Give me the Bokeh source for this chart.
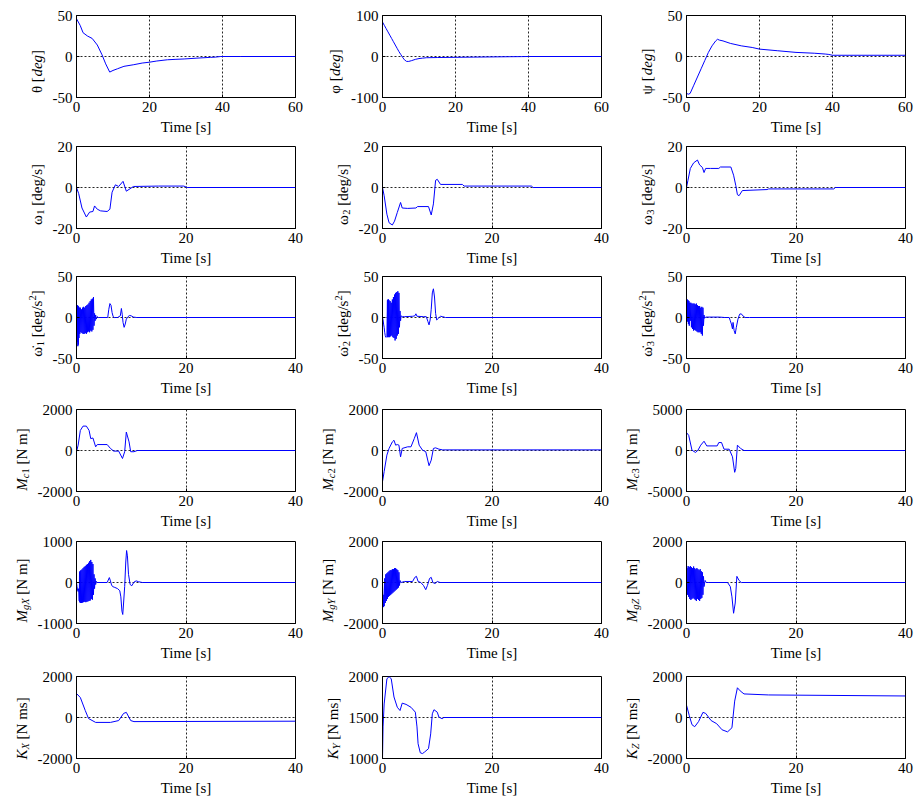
import numpy as np
from bokeh.plotting import figure
from bokeh.layouts import column, row
from bokeh.models import FixedTicker
from bokeh.core.properties import value
from bokeh.embed import file_html
from bokeh.resources import INLINE

FONT = "Liberation Serif"

# ---------------- data ----------------
theta_t = [0, 1, 1.8, 3, 4.3, 5.7, 7, 8, 9.1, 10, 11.2, 13, 15.7, 18, 19.9, 22, 24.9, 27, 29.5, 33, 36.8, 38, 39.5, 45, 60]
theta_v = [46, 38, 29, 25, 22, 14, 2, -9, -19, -17, -15, -12, -10, -8, -7, -5.5, -4, -3.5, -3, -2, -1, -0.8, 0, 0, 0]

phi_t = [0, 0.5, 1, 1.5, 2, 2.5, 3, 3.5, 4, 4.5, 5, 5.5, 6, 6.6, 7.2, 8, 9, 10, 11, 12, 15, 20, 25, 30, 35, 38, 40, 60]
phi_v = [84, 76, 68, 60, 52, 44, 36, 28, 20, 12, 5, -2, -8, -12, -12, -10, -7, -5, -4, -3, -2.5, -2, -1.5, -1, -0.5, -0.3, 0, 0]

psi_t = [0, 0.5, 1, 2, 3, 4, 5, 6, 7, 8, 8.5, 9, 10, 12, 15, 18, 20, 25, 30, 35, 38, 39, 40, 60]
psi_v = [-45, -46, -45, -35, -25, -15, -5, 5, 13, 19, 21, 20, 19, 16, 13, 11, 9, 7, 5, 4, 3, 2.5, 1.5, 1.5]

w1_t = [0, 0.4, 1, 1.8, 2.4, 3, 3.3, 3.8, 4.4, 5.6, 6.1, 6.5, 7.1, 7.7, 8.5, 9.1, 10.4, 15, 19.6, 20.2, 40]
w1_v = [0, -3, -10, -14.4, -12, -11.7, -9, -10.6, -11.4, -11.7, -10.6, -2.3, 1.3, 0.5, 3, -1.8, 0.5, 0.7, 0.7, 0, 0]

w2_t = [0, 0.3, 0.8, 1.2, 1.8, 2.2, 2.7, 3.3, 3.6, 4.6, 6.1, 6.4, 8.4, 8.9, 9.3, 9.7, 10, 10.6, 14.6, 14.9, 27.2, 27.5, 40]
w2_v = [0, -4, -13, -17.2, -18.3, -16.4, -12.2, -7.3, -10, -10.2, -10, -9.3, -9.3, -13.4, -8, 3.5, 4, 1.5, 1.5, 0.7, 0.7, 0, 0]

w3_t = [0, 0.25, 0.7, 1.3, 2, 2.4, 2.9, 3.2, 3.5, 4.4, 5.9, 6.2, 8.1, 8.6, 9, 9.3, 9.6, 10.2, 14.7, 15, 26.9, 27.2, 40]
w3_v = [0, 3.3, 9.3, 12, 13.4, 11, 9.8, 7.3, 9.3, 9.3, 9.3, 10, 10, 6, 1, -3.5, -4, -1.5, -1, -0.7, -0.7, 0, 0]

dw1_t = [0, 0.05, 0.1, 0.15, 0.2, 0.25, 0.3, 0.35, 0.4, 0.45, 0.5, 0.6, 0.7, 0.8, 0.9, 1.0, 1.1, 1.2, 1.3, 1.4,
         1.5, 1.6, 1.7, 1.8, 1.9, 2.0, 2.1, 2.2, 2.3, 2.4, 2.5, 2.6, 2.7, 2.8, 2.9, 3.0, 3.1, 3.2, 3.3, 3.4,
         3.5, 3.6, 3.8, 4.0, 5.7, 5.9, 6.1, 6.3, 6.5, 6.7, 6.9, 7.5, 8.0, 8.2, 8.35, 8.5, 8.7, 8.9, 9.1, 9.4,
         9.7, 10.0, 10.4, 11.0, 40]
dw1_v = [0, -20, 14, -30, 15, -35, 14, -33, 13, -25, 12, -20, 12, -18, 10, -19, 12, -20, 13, -20,
         12, -19, 14, -20, 15, -18, 16, -17, 18, -18, 20, -16, 22, -17, 23, -15, 25, -10, 5, -4,
         3, -2, 1, 0, 0, 10, 17, 15, 6, 1, 0, 0, 2, 11, 4, -6, -12, -8, -2, 1,
         2.5, 2, 0.5, 0, 0]

dw2_t = [0, 0.1, 0.2, 0.3, 0.4, 0.5, 0.6, 0.7, 0.8, 0.9, 0.95, 1.0, 1.05, 1.1, 1.15, 1.2, 1.3, 1.4, 1.5, 1.6,
         1.7, 1.8, 1.9, 2.0, 2.1, 2.2, 2.3, 2.4, 2.5, 2.6, 2.7, 2.8, 2.9, 3.0, 3.1, 3.2, 3.3, 3.4, 3.6, 4.0,
         5.5, 5.9, 6.1, 6.3, 7.5, 8.0, 8.3, 8.5, 8.7, 8.9, 9.1, 9.3, 9.5, 9.7, 9.9, 10.2, 10.6, 11.0, 11.5, 40]
dw2_v = [0, -3, -8, -12, -18, -22, -24, -24, -23, 21, -24, 22, -24, 22, -23, 21, -24, 20, -23, 18,
         -22, 22, -24, 25, -25, 28, -28, 30, -26, 31, -22, 32, -20, 30, -12, 8, -4, 2, 1, 1,
         1.5, 2, 4.5, 1.5, 1, 1, -5, -9, -3, 10, 30, 35, 25, 5, -3, -1, 1.5, 1, 0, 0]

dw3_t = [0, 0.05, 0.1, 0.15, 0.2, 0.3, 0.35, 0.45, 0.5, 0.6, 0.7, 0.8, 0.9, 1.0, 1.1, 1.2, 1.3, 1.4, 1.5, 1.6,
         1.7, 1.8, 1.9, 2.0, 2.1, 2.2, 2.3, 2.4, 2.5, 2.6, 2.7, 2.8, 2.9, 3.0, 3.1, 3.2, 3.3, 3.5, 6.0, 7.0,
         7.8, 8.0, 8.2, 8.4, 8.5, 8.7, 8.9, 9.1, 9.4, 9.7, 10.0, 10.3, 10.7, 11.5, 40]
dw3_v = [0, 20, -3, 22, -5, 21, -8, 20, -10, 18, -4, 18, -12, 17, -14, 17, -16, 17, -15, 16,
         -16, 17, -17, 15, -18, 14, -18, 14, -18, 12, -20, 13, -22, 12, -10, 3, -1, 0.5, 0.5, 0,
         0, -4, -8, -14, -6, -16, -20, -12, -2, 4, 4.5, 2, 0, 0, 0]

mc1_t = [0, 0.3, 0.7, 1.2, 1.8, 2.3, 2.6, 3.0, 3.5, 3.8, 5.6, 6.2, 6.8, 7.7, 8.4, 8.8, 9.1, 9.6, 9.9, 10.5, 11.1, 40]
mc1_v = [-60, 260, 980, 1190, 1190, 980, 580, 610, 180, 290, 290, 100, -30, -30, -390, -60, 900, 420, -60, -60, 0, 0]

mc2_t = [0, 0.3, 0.8, 1.2, 1.8, 2.1, 2.4, 2.7, 3.0, 3.3, 3.6, 4.6, 5.2, 5.8, 6.2, 6.7, 7.3, 7.9, 8.5, 8.9, 9.3, 9.7, 10.3, 11, 40]
mc2_v = [-1520, -1030, -225, 100, 420, 500, 260, 290, 260, -310, 100, 180, 180, 580, 870, 260, 20, -60, -740, -470, 100, 130, 65, 30, 30]

mc3_t = [0, 0.4, 1.0, 1.65, 2.1, 2.6, 3.2, 3.7, 5.6, 5.9, 6.4, 6.85, 7.8, 8.4, 8.8, 9.0, 9.3, 9.9, 10.5, 40]
mc3_v = [2180, 1850, 40, -240, 40, 650, 1130, 560, 560, 970, 970, 160, 160, -770, -2660, -2180, 650, 240, 0, 0]

mgx_t = [0, 0.1, 0.2, 0.3, 0.4, 0.5, 0.55, 0.6, 0.65, 0.7, 0.8, 0.9, 1.0, 1.1, 1.2, 1.3, 1.4, 1.5, 1.6, 1.7,
         1.8, 1.9, 2.0, 2.1, 2.2, 2.3, 2.4, 2.5, 2.6, 2.7, 2.8, 2.9, 3.0, 3.1, 3.2, 3.3, 3.4, 3.5, 3.6, 3.8,
         5.6, 5.8, 6.0, 6.2, 6.4, 6.6, 7.0, 7.5, 7.9, 8.1, 8.3, 8.45, 8.6, 8.8, 9.0, 9.15, 9.3, 9.5, 9.8, 10.1,
         10.5, 10.9, 11.3, 12, 40]
mgx_v = [0, -100, -200, -220, -150, -450, 250, -480, 280, -500, 300, -500, 320, -490, 350, -480, 380, -470, 400, -480,
         430, -470, 450, -460, 480, -450, 520, -440, 550, -400, 500, -420, 450, -300, 200, -150, 100, -50, 30, 0,
         0, 60, 120, 40, -60, -100, -120, -150, -200, -350, -700, -780, -500, -100, 500, 780, 650, 200, -50, -80,
         10, 40, 20, 0, 0]

mgy_t = [0, 0.1, 0.15, 0.2, 0.25, 0.3, 0.4, 0.5, 0.6, 0.7, 0.8, 0.9, 1.0, 1.1, 1.2, 1.3, 1.4, 1.5, 1.6, 1.7,
         1.8, 1.9, 2.0, 2.1, 2.2, 2.3, 2.4, 2.5, 2.6, 2.7, 2.8, 2.9, 3.0, 3.1, 3.2, 3.4, 4.0, 5.5, 5.9, 6.2,
         6.5, 7.0, 7.5, 7.9, 8.2, 8.6, 8.9, 9.2, 9.6, 10, 10.5, 40]
mgy_v = [0, -800, -1100, -1200, -600, -1150, 200, -1000, 400, -900, 450, -800, 500, -700, 550, -650, 600, -600, 600, -550,
         650, -500, 650, -450, 700, -400, 700, -350, 650, -300, 600, -250, 500, -150, 100, 0, 50, 50, 250, 300,
         50, 0, -150, -350, -150, 200, 250, 0, -50, 50, 0, 0]

mgz_t = [0, 0.1, 0.2, 0.3, 0.4, 0.5, 0.6, 0.7, 0.8, 0.9, 1.0, 1.1, 1.2, 1.3, 1.4, 1.5, 1.6, 1.7, 1.8, 1.9,
         2.0, 2.1, 2.2, 2.3, 2.4, 2.5, 2.6, 2.7, 2.8, 2.9, 3.0, 3.1, 3.2, 3.4, 3.6, 4.0, 7.5, 8.0, 8.3, 8.6,
         8.9, 9.2, 9.6, 10, 40]
mgz_v = [0, 700, -600, 800, -700, 750, -800, 800, -850, 750, -800, 700, -750, 780, -800, 700, -850, 650, -900, 700,
         -800, 650, -850, 600, -900, 650, -800, 550, -750, 500, -600, 300, -200, 100, 0, 0, 0, -200, -700, -1500,
         -1000, 300, 100, 0, 0]

kx_t = [0, 0.7, 1.6, 2.2, 3.5, 6.2, 7.7, 8.6, 9.1, 9.9, 10.5, 40]
kx_v = [1170, 975, 340, -50, -240, -240, -150, 200, 250, -150, -200, -180]

ky_t = [0, 0.1, 0.3, 0.8, 1.2, 1.6, 2.1, 2.7, 3.2, 3.6, 4.3, 5.2, 6.0, 6.3, 6.5, 6.9, 7.3, 7.7, 8.4, 8.8, 9.1, 9.4, 10.0, 10.3, 10.9, 11.2, 40]
ky_v = [1000, 1385, 1665, 1970, 2000, 1970, 1750, 1625, 1585, 1675, 1660, 1625, 1565, 1385, 1180, 1070, 1060, 1080, 1120, 1300, 1545, 1595, 1565, 1505, 1485, 1500, 1500]

kz_t = [0, 0.5, 1, 1.5, 2.2, 3, 3.5, 4.5, 5.5, 6.5, 7.5, 8.3, 8.8, 9.3, 9.8, 10.5, 15, 40]
kz_v = [600, 100, -350, -450, -200, 250, 200, -150, -300, -600, -700, -500, 800, 1450, 1300, 1150, 1100, 1050]

xticks_60 = [0, 20, 40, 60]
xticks_40 = [0, 20, 40]

# label pieces: (text, kind) kind: r=roman, i=italic, sub, subi, sup
lab_theta = [("θ [", "r"), ("deg", "i"), ("]", "r")]
lab_phi = [("φ [", "r"), ("deg", "i"), ("]", "r")]
lab_psi = [("ψ [", "r"), ("deg", "i"), ("]", "r")]
lab_w = [[("ω", "r"), (str(k), "sub"), (" [deg/s]", "r")] for k in (1, 2, 3)]
lab_dw = [[("ω\u0307", "r"), (str(k), "sub"), (" [deg/s", "r"), ("2", "sup"), ("]", "r")] for k in (1, 2, 3)]
lab_mc = [[("M", "i"), ("c", "subi"), (str(k), "sub"), (" [N m]", "r")] for k in (1, 2, 3)]
lab_mg = [[("M", "i"), ("g" + a, "subi"), (" [N m]", "r")] for a in ("X", "Y", "Z")]
lab_k = [[("K", "i"), (a, "subi"), (" [N ms]", "r")] for a in ("X", "Y", "Z")]

panels = [
    [(theta_t, theta_v, xticks_60, [-50, 0, 50], lab_theta),
     (phi_t, phi_v, xticks_60, [-100, 0, 100], lab_phi),
     (psi_t, psi_v, xticks_60, [-50, 0, 50], lab_psi)],
    [(w1_t, w1_v, xticks_40, [-20, 0, 20], lab_w[0]),
     (w2_t, w2_v, xticks_40, [-20, 0, 20], lab_w[1]),
     (w3_t, w3_v, xticks_40, [-20, 0, 20], lab_w[2])],
    [(dw1_t, dw1_v, xticks_40, [-50, 0, 50], lab_dw[0]),
     (dw2_t, dw2_v, xticks_40, [-50, 0, 50], lab_dw[1]),
     (dw3_t, dw3_v, xticks_40, [-50, 0, 50], lab_dw[2])],
    [(mc1_t, mc1_v, xticks_40, [-2000, 0, 2000], lab_mc[0]),
     (mc2_t, mc2_v, xticks_40, [-2000, 0, 2000], lab_mc[1]),
     (mc3_t, mc3_v, xticks_40, [-5000, 0, 5000], lab_mc[2])],
    [(mgx_t, mgx_v, xticks_40, [-1000, 0, 1000], lab_mg[0]),
     (mgy_t, mgy_v, xticks_40, [-2000, 0, 2000], lab_mg[1]),
     (mgz_t, mgz_v, xticks_40, [-2000, 0, 2000], lab_mg[2])],
    [(kx_t, kx_v, xticks_40, [-2000, 0, 2000], lab_k[0]),
     (ky_t, ky_v, xticks_40, [1000, 1500, 2000], lab_k[1]),
     (kz_t, kz_v, xticks_40, [-2000, 0, 2000], lab_k[2])],
]

# ---------------- layout / styling ----------------
FW, FH = 219, 82
BORDER_L = [76, 68, 68]     # column start -> frame left
BORDER_R = [19, 17, 10]
BORDER_T = [15, 7, 6, 9, 8, 11]
BORDER_B = 42
FS = 15
SUBFS = 10.5

ROMAN = {' ': .25, '[': .333, ']': .333, 'd': .5, 'e': .444, 'g': .5, '/': .278, 's': .389,
         'N': .722, 'm': .778, 'θ': .52, 'φ': .6, 'ψ': .69, 'ω': .69, '\u0307': 0.0}
ITAL = {'M': .833, 'K': .667, 'c': .444, 'g': .5, 'X': .611, 'Y': .556, 'Z': .556,
        'd': .5, 'e': .444}


def text_w(s, kind):
    size = FS if kind in ("r", "i") else SUBFS
    table = ITAL if kind in ("i", "subi") else ROMAN
    return sum(table.get(ch, 0.5) for ch in s) * size


def tick_w(ticks):
    return max(sum(0.333 if ch == '-' else 0.5 for ch in str(t)) for t in ticks) * FS


def label_figure(segs, yt, total_left, main_left, height):
    """Narrow figure holding the rotated, rich y-axis label of one panel."""
    w = total_left - main_left
    lf = figure(frame_width=w, frame_height=height, x_range=(0, w), y_range=(0, height),
                output_backend="svg", toolbar_location=None,
                min_border_left=0, min_border_right=0, min_border_top=0, min_border_bottom=0)
    lf.axis.visible = False
    lf.grid.visible = False
    lf.outline_line_color = None
    lf.background_fill_color = "white"
    lf.border_fill_color = "white"
    widths = [text_w(s, k) for s, k in segs]
    ypos = BORDER_B + FH / 2 - sum(widths) / 2
    xc = total_left - (4 + tick_w(yt) + 16)
    for (s, k), wd in zip(segs, widths):
        size = FS if k in ("r", "i") else SUBFS
        dx = {"r": 0, "i": 0, "sub": 3.5, "subi": 3.5, "sup": -4.5}[k]
        lead = len(s) - len(s.lstrip(" "))
        shown = s.strip(" ")
        lf.text(x=[xc + dx], y=[ypos + lead * 0.25 * size], text=[shown], angle=np.pi / 2,
                text_font=value(FONT), text_font_size=value(f"{size}px"),
                text_font_style="italic" if k in ("i", "subi") else "normal",
                text_align="left", text_baseline="middle", text_color="black")
        ypos += wd
    return lf


rows = []
for ri, prow in enumerate(panels):
    figs = []
    height = BORDER_T[ri] + FH + BORDER_B
    for ci, (t, v, xt, yt, lab) in enumerate(prow):
        main_left = int(round(4 + tick_w(yt) + 3))
        p = figure(frame_width=FW, frame_height=FH, x_range=(xt[0], xt[-1]), y_range=(yt[0], yt[-1]),
                   output_backend="svg", toolbar_location=None,
                   min_border_left=main_left, min_border_right=BORDER_R[ci],
                   min_border_top=BORDER_T[ri], min_border_bottom=BORDER_B)
        p.background_fill_color = "white"
        p.border_fill_color = "white"
        p.outline_line_color = "black"
        p.outline_line_width = 1
        p.outline_line_alpha = 1
        for ax in (p.xaxis, p.yaxis):
            ax.major_tick_in = 3
            ax.major_tick_out = 0
            ax.minor_tick_line_color = None
            ax.axis_line_color = "black"
            ax.major_tick_line_color = "black"
            ax.major_label_text_font = FONT
            ax.major_label_text_font_size = f"{FS}px"
            ax.major_label_text_color = "black"
            ax.major_label_standoff = 4
        p.xaxis.ticker = FixedTicker(ticks=xt)
        p.yaxis.ticker = FixedTicker(ticks=yt)
        p.yaxis.major_label_overrides = {tk: str(tk) for tk in yt}
        p.xaxis.axis_label = "Time [s]"
        p.xaxis.axis_label_text_font = FONT
        p.xaxis.axis_label_text_font_size = f"{FS}px"
        p.xaxis.axis_label_text_font_style = "normal"
        p.xaxis.axis_label_text_color = "black"
        p.xaxis.axis_label_standoff = 4
        for g in (p.xgrid, p.ygrid):
            g.grid_line_color = "black"
            g.grid_line_dash = "2 2"
            g.grid_line_width = 1
            g.grid_line_alpha = 0.85
        p.line(t, v, line_color="#0000ff", line_width=1)
        figs.append(label_figure(lab, yt, BORDER_L[ci], main_left, height))
        figs.append(p)
    rows.append(row(*figs))

layout = column(*rows)
open("out.html", "w").write(file_html(layout, INLINE))
